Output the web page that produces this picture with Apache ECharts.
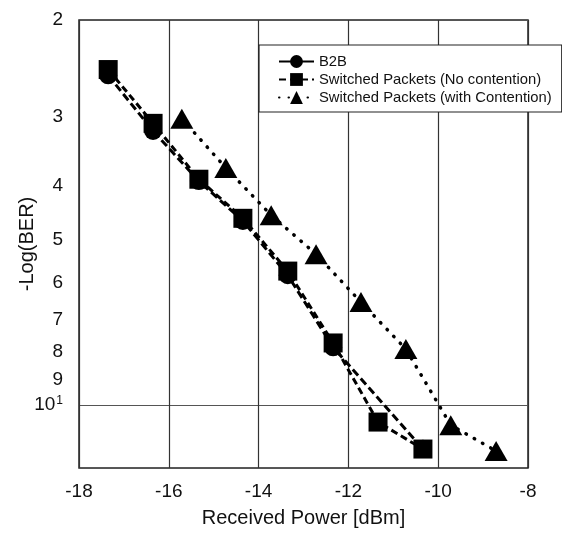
<!DOCTYPE html>
<html>
<head>
<meta charset="utf-8">
<script src="https://cdn.jsdelivr.net/npm/echarts@6/dist/echarts.min.js"></script>
<style>html,body{margin:0;padding:0;background:#fff}#c{width:562px;height:535px}</style>
</head>
<body>
<div id="c"></div>
<script>
// Received power [dBm] and -Log(BER) values
const b2bX = [-17.35, -16.35, -15.33, -14.35, -13.35, -12.34, -10.34];
const b2bY = [2.52, 3.18, 3.92, 4.63, 5.81, 7.85, 12.0];
const noContX = [-17.35, -16.35, -15.33, -14.35, -13.35, -12.34, -11.34, -10.34];
const noContY = [2.46, 3.08, 3.89, 4.58, 5.71, 7.71, 10.73, 12.01];
const contX = [-15.71, -14.73, -13.72, -12.72, -11.72, -10.72, -9.72, -8.71];
const contY = [3.02, 3.71, 4.52, 5.32, 6.50, 7.91, 10.87, 12.11];
const yTicks = [2, 3, 4, 5, 6, 7, 8, 9, 10];
const seriesNames = ['B2B', 'Switched Packets (No contention)', 'Switched Packets (with Contention)'];

const pair = (xs, ys) => xs.map((x, i) => [x, ys[i]]);
const font = 'Liberation Sans, Arial, sans-serif';

const chart = echarts.init(document.getElementById('c'));
chart.setOption({
  animation: false,
  backgroundColor: '#fff',
  textStyle: { fontFamily: font, color: '#111' },
  grid: { left: 79, right: 34, top: 20, bottom: 67, containLabel: false, outerBoundsMode: 'none',
          show: true, borderColor: '#222', borderWidth: 1.5, backgroundColor: 'transparent' },
  legend: {
    orient: 'vertical', left: 259, top: 45,
    data: [
      { name: seriesNames[0], lineStyle: { type: 'solid' } },
      { name: seriesNames[1] },
      { name: seriesNames[2] }
    ],
    itemWidth: 35, itemHeight: 16, itemGap: 3,
    padding: [9, 10, 7, 19],
    borderColor: '#222', borderWidth: 1.2, backgroundColor: '#fff',
    textStyle: { fontSize: 14.8, color: '#111', fontFamily: font }
  },
  xAxis: {
    type: 'value', min: -18, max: -8, interval: 2,
    name: 'Received Power [dBm]', nameLocation: 'middle', nameGap: 40, nameMoveOverlap: false,
    nameTextStyle: { fontSize: 20, color: '#111', fontFamily: font },
    axisLine: { show: false }, axisTick: { show: false },
    axisLabel: { fontSize: 19, color: '#111', margin: 14, fontFamily: font },
    splitLine: { show: true, lineStyle: { color: '#333', width: 1.2 } }
  },
  yAxis: {
    type: 'log', logBase: 10, min: 2, max: 13, inverse: true,
    name: '-Log(BER)', nameLocation: 'middle', nameGap: 42, nameMoveOverlap: false,
    nameTextStyle: { fontSize: 20, color: '#111', fontFamily: font },
    axisLine: { show: false }, axisTick: { show: false },
    axisLabel: {
      customValues: yTicks,
      fontSize: 19, color: '#111', margin: 16, fontFamily: font,
      formatter: v => {
        const n = Math.round(v);
        return n === 10 ? '{b|10}{s|1}' : '{b|' + n + '}';
      },
      rich: {
        b: { fontSize: 19, color: '#111', fontFamily: font },
        s: { fontSize: 12, color: '#111', fontFamily: font, verticalAlign: 'top', padding: [0, 0, 10, 1] }
      }
    },
    splitLine: { show: true, lineStyle: { color: '#555', width: 1 } },
    minorSplitLine: { show: false }
  },
  series: [
    {
      name: seriesNames[0], type: 'line', data: pair(b2bX, b2bY),
      symbol: 'circle', symbolSize: 18,
      itemStyle: { color: '#000' },
      lineStyle: { color: '#000', width: 3, type: [8, 4] }
    },
    {
      name: seriesNames[1], type: 'line', data: pair(noContX, noContY),
      symbol: 'rect', symbolSize: 19,
      itemStyle: { color: '#000' },
      lineStyle: { color: '#000', width: 3, type: [7, 4] }
    },
    {
      name: seriesNames[2], type: 'line', data: pair(contX, contY),
      symbol: 'triangle', symbolSize: [23, 20],
      itemStyle: { color: '#000' },
      lineStyle: { color: '#000', width: 3.5, type: [0.5, 9], cap: 'round' }
    }
  ]
});
</script>
</body>
</html>
